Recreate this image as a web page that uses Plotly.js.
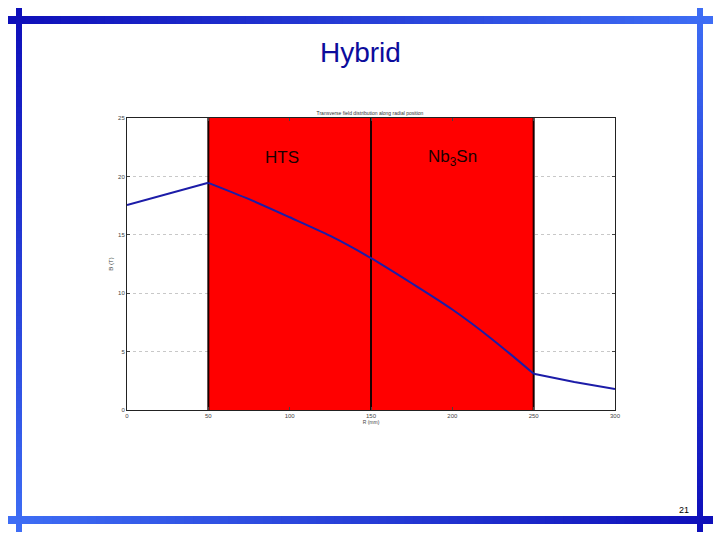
<!DOCTYPE html>
<html>
<head>
<meta charset="utf-8">
<script src="https://cdn.plot.ly/plotly-3.0.1.min.js"></script>
<style>
  body { margin: 0; background: #fff; }
  #chart { width: 720px; height: 540px; }
</style>
</head>
<body>
<div id="chart"></div>
<script>
// radial position (mm) and transverse field (T)
const radius = [0, 50, 75, 100, 125, 150, 175, 200, 225, 250, 275, 300];
const field = [17.55, 19.45, 18.05, 16.5, 14.9, 13.0, 10.85, 8.6, 6.0, 3.1, 2.4, 1.8];

// coil regions
const regionNames = ["HTS", "Nb<sub>3</sub>Sn"];
const regionStart = [50, 150];
const regionEnd = [150, 250];

const xTicks = [0, 50, 100, 150, 200, 250, 300];
const yTicks = [0, 5, 10, 15, 20, 25];

// plot area in pixels
const W = 720, H = 540;
const L = 127, R = 105, T = 118, B = 130;
const px = (x) => (x - L) / (W - L - R);
const py = (y) => (H - B - y) / (H - T - B);

function mix(a, b, t) {
    const c = a.map((v, i) => Math.round(v + (b[i] - v) * t));
    return "rgb(" + c.join(",") + ")";
}
const dark = [14, 14, 185];
const light = [62, 110, 245];

// slide frame bars with a colour fade
function bar(x0, y0, x1, y1, from, to, horizontal) {
    let out = [];
    const n = 80;
    for (let i = 0; i < n; i++) {
        let a = i / n, b = (i + 1) / n;
        let s = {
            type: "rect", xref: "paper", yref: "paper", layer: "above",
            line: { width: 0 }, fillcolor: mix(from, to, (a + b) / 2)
        };
        if (horizontal) {
            s.x0 = px(x0 + (x1 - x0) * a);
            s.x1 = px(Math.min(x1, x0 + (x1 - x0) * b + 2));
            s.y0 = py(y0); s.y1 = py(y1);
        } else {
            s.y0 = py(y0 + (y1 - y0) * a);
            s.y1 = py(Math.min(y1, y0 + (y1 - y0) * b + 2));
            s.x0 = px(x0); s.x1 = px(x1);
        }
        out.push(s);
    }
    return out;
}

let shapes = [];
shapes = shapes.concat(bar(8, 16, 713, 24, dark, light, true));
shapes = shapes.concat(bar(8, 516, 713, 524, light, dark, true));
shapes = shapes.concat(bar(16, 8, 22, 532, dark, light, false));
shapes = shapes.concat(bar(697, 8, 703, 532, light, dark, false));

// red coil blocks and their black borders
regionStart.forEach((x0, i) => {
    shapes.push({
        type: "rect", xref: "x", yref: "y", layer: "between",
        x0: x0, x1: regionEnd[i], y0: 0, y1: 25,
        fillcolor: "#ff0000", line: { width: 0 }
    });
});
const borders = [regionStart[0]].concat(regionEnd);
borders.forEach((x) => {
    shapes.push({
        type: "line", xref: "x", yref: "y", layer: "between",
        x0: x, x1: x, y0: 0, y1: 25,
        line: { color: "#1a0000", width: 2 }
    });
});

let annotations = regionNames.map((name, i) => {
    return {
        x: (regionStart[i] + regionEnd[i]) / 2 - (i == 0 ? 5 : 0), y: 21.6,
        xref: "x", yref: "y", text: name, showarrow: false,
        font: { family: "Arial, Liberation Sans", size: 17, color: "#1a0000" }
    };
});
annotations.push({
    x: px(360), y: py(52), xref: "paper", yref: "paper",
    xanchor: "center", yanchor: "middle",
    text: "Hybrid", showarrow: false,
    font: { family: "Arial, Liberation Sans", size: 28, color: "#0c0c9c" }
});
annotations.push({
    x: px(684), y: py(510), xref: "paper", yref: "paper",
    xanchor: "center", yanchor: "middle",
    text: "21", showarrow: false,
    font: { family: "Arial, Liberation Sans", size: 9, color: "#000" }
});

// straight outside the coils, smooth inside
const lineStyle = { color: "#1c1ca8", width: 2 };
const traces = [
    { x: radius.slice(0, 2), y: field.slice(0, 2), mode: "lines", line: lineStyle },
    { x: radius.slice(1, 10), y: field.slice(1, 10), mode: "lines",
      line: Object.assign({ shape: "spline", smoothing: 0.8 }, lineStyle) },
    { x: radius.slice(9), y: field.slice(9), mode: "lines", line: lineStyle }
];

const tickFont = { family: "Arial, Liberation Sans", size: 6, color: "#444" };

Plotly.newPlot("chart", traces, {
    width: W, height: H,
    margin: { l: L, r: R, t: T, b: B },
    paper_bgcolor: "#fff",
    plot_bgcolor: "#fff",
    showlegend: false,
    hovermode: false,
    title: {
        text: "Transverse field distribution along radial position",
        font: { family: "Arial, Liberation Sans", size: 5, color: "#333" },
        xref: "container", yref: "container",
        x: 370 / W, xanchor: "center", y: 1 - 113 / H, yanchor: "middle"
    },
    xaxis: {
        range: [0, 300], tickvals: xTicks, ticks: "inside", ticklen: 3,
        showgrid: false, zeroline: false,
        showline: true, linecolor: "#222", linewidth: 1, mirror: "ticks",
        tickfont: tickFont,
        title: { text: "R (mm)", standoff: 2, font: { family: "Arial, Liberation Sans", size: 5, color: "#444" } }
    },
    yaxis: {
        range: [0, 25], tickvals: yTicks, ticks: "inside", ticklen: 3,
        showgrid: true, gridcolor: "#c8c8c8", griddash: "dot", gridwidth: 1,
        zeroline: false,
        showline: true, linecolor: "#222", linewidth: 1, mirror: "ticks",
        tickfont: tickFont,
        title: { text: "B (T)", standoff: 4, font: { family: "Arial, Liberation Sans", size: 6, color: "#444" } }
    },
    shapes: shapes,
    annotations: annotations
}, { displayModeBar: false, staticPlot: true });
</script>
</body>
</html>
